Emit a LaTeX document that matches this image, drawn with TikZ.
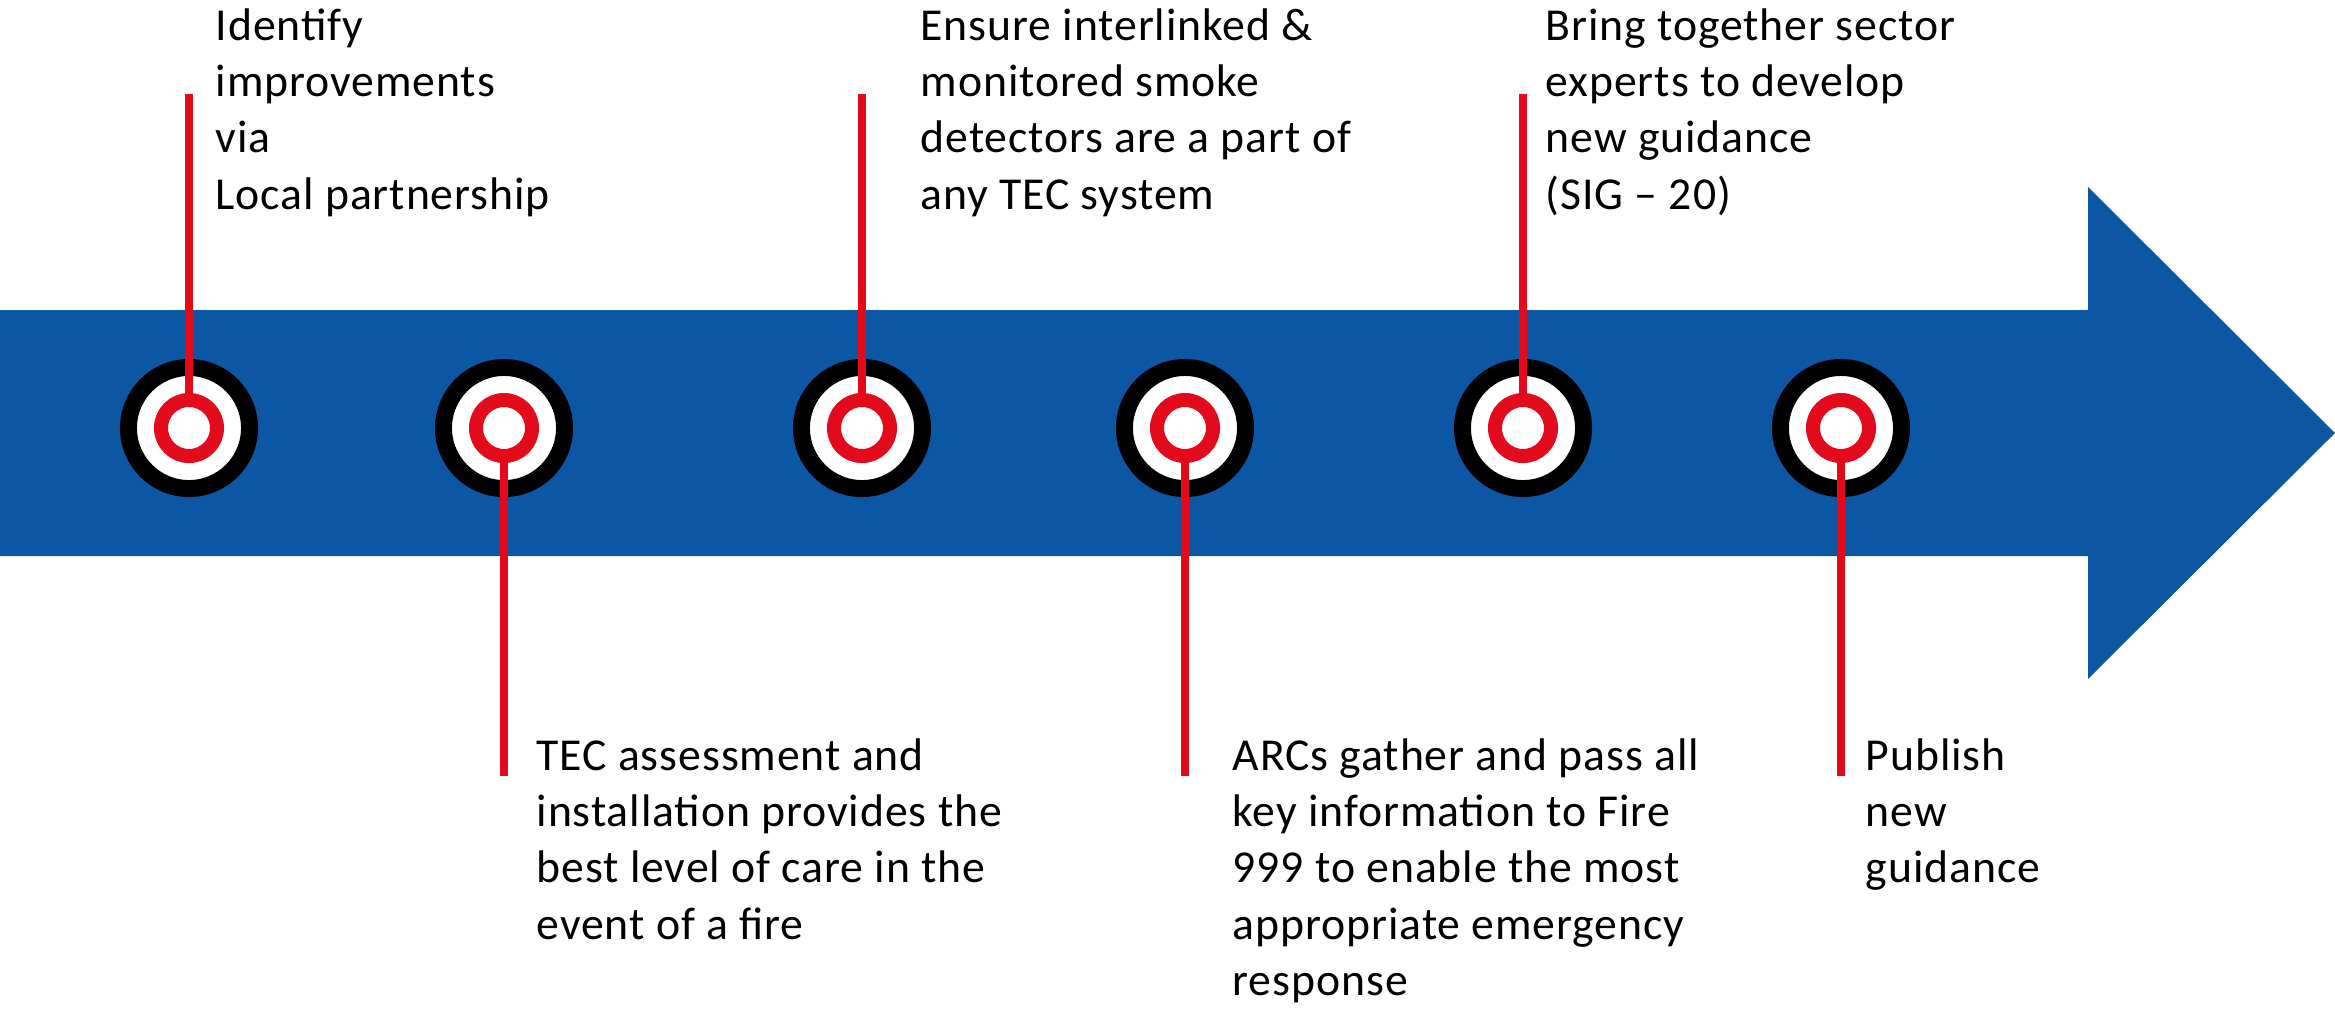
\documentclass[tikz,border=0pt]{standalone}
\usepackage{fontspec}
\setmainfont{Carlito}[LetterSpace=2]
\definecolor{bandblue}{RGB}{11,87,164}
\definecolor{pinred}{RGB}{227,10,27}

\begin{document}
\begin{tikzpicture}[
    x=0.01cm, y=-0.01cm,
    band/.style={fill=bandblue},
    ring/.style={circle, draw=black, fill=white, line width=0.17cm, inner sep=0pt, minimum size=1.21cm},
    dot/.style={circle, draw=pinred, fill=white, line width=0.14cm, inner sep=0pt, minimum size=0.56cm},
    stem/.style={draw=pinred, line width=0.08cm},
    note/.style={anchor=north west, inner sep=0pt, align=left, font=\fontsize{13}{16}\selectfont}
]
\useasboundingbox (0,0) rectangle (2335,1008);

% the arrow
\fill[band] (0,310) -- (2088,310) -- (2088,187) -- (2335,433)
  -- (2088,679) -- (2088,556) -- (0,556) -- cycle;

% targets
\foreach \x [count=\i] in {189,504,862,1185,1523,1841}{
  \node[ring] (r\i) at (\x,428) {};
}

% free ends of the stems
\coordinate (e1) at (189,94);
\coordinate (e2) at (504,776);
\coordinate (e3) at (862,94);
\coordinate (e4) at (1185,776);
\coordinate (e5) at (1523,94);
\coordinate (e6) at (1841,776);

\foreach \i in {1,3,5}{
  \draw[stem] (r\i.center) -- (e\i);
}
\foreach \i in {2,4,6}{
  \draw[stem] (r\i.center) -- (e\i);
}

\foreach \x [count=\i] in {189,504,862,1185,1523,1841}{
  \node[dot] (d\i) at (\x,428) {};
}

% labels
\node[note] (n1) at (215,8) {Identify\\improvements\\via\\Local partnership};
\node[note] (n3) at (920,8) {Ensure interlinked \&\\monitored smoke\\detectors are a part of\\any TEC system};
\node[note] (n5) at (1545,8) {Bring together sector\\experts to develop\\new guidance\\(SIG – 20)};

\node[note] (n2) at (536,738) {TEC assessment and\\installation provides the\\best level of care in the\\event of a fire};
\node[note] (n4) at (1232,738) {ARCs gather and pass all\\key information to Fire\\999 to enable the most\\appropriate emergency\\response};
\node[note] (n6) at (1865,738) {Publish\\new\\guidance};

\end{tikzpicture}
\end{document}
